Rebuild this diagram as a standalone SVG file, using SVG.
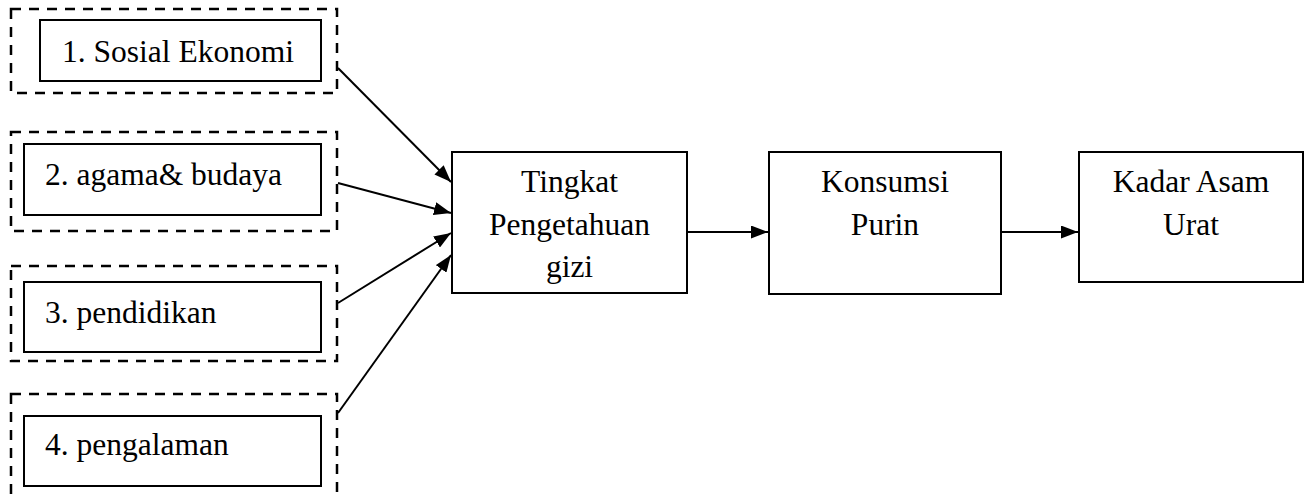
<svg xmlns="http://www.w3.org/2000/svg" width="1308" height="497" viewBox="0 0 1308 497">
<style>
.dash{fill:none;stroke:#000;stroke-width:2.5;stroke-dasharray:10 8}
.box{fill:#fff;stroke:#000;stroke-width:2}
text{font-family:'Liberation Serif','Times New Roman',Times,'DejaVu Serif',serif;font-size:31.5px;fill:#000}
.c{text-anchor:middle}
.ln{fill:none;stroke:#000;stroke-width:2;marker-end:url(#ah)}
</style>
<defs>
<marker id="ah" markerWidth="17" markerHeight="13" refX="17" refY="6.5" orient="auto" markerUnits="userSpaceOnUse">
<path d="M0,0 L17,6.5 L0,13 Z" fill="#000"/>
</marker>
</defs>
<rect width="1308" height="497" fill="#fff"/>
<g id="factor1">
<rect class="dash" x="11" y="9" width="326" height="84"/>
<rect class="box" x="40" y="20" width="281" height="61"/>
<text x="62" y="62">1. Sosial Ekonomi</text>
</g>
<g id="factor2">
<rect class="dash" x="11" y="132" width="326" height="99"/>
<rect class="box" x="24" y="144" width="297" height="71"/>
<text x="45" y="185">2. agama&amp; budaya</text>
</g>
<g id="factor3">
<rect class="dash" x="11" y="266" width="326" height="95"/>
<rect class="box" x="24" y="282" width="297" height="70"/>
<text x="45" y="323">3. pendidikan</text>
</g>
<g id="factor4">
<rect class="dash" x="11" y="394" width="326" height="120"/>
<rect class="box" x="24" y="416" width="297" height="70"/>
<text x="45" y="455">4. pengalaman</text>
</g>
<g id="tingkat">
<rect class="box" x="452" y="152" width="235" height="141"/>
<text class="c" x="569.5" y="192">Tingkat</text>
<text class="c" x="569.5" y="235">Pengetahuan</text>
<text class="c" x="569.5" y="277">gizi</text>
</g>
<g id="konsumsi">
<rect class="box" x="769" y="152" width="232" height="142"/>
<text class="c" x="885" y="192">Konsumsi</text>
<text class="c" x="885" y="235">Purin</text>
</g>
<g id="kadar">
<rect class="box" x="1079" y="152" width="224" height="130"/>
<text class="c" x="1191" y="192">Kadar Asam</text>
<text class="c" x="1191" y="235">Urat</text>
</g>
<g id="connectors">
<line class="ln" x1="338" y1="68" x2="451" y2="182"/>
<line class="ln" x1="338" y1="183" x2="451" y2="213"/>
<line class="ln" x1="338" y1="303" x2="451" y2="233"/>
<line class="ln" x1="338" y1="413" x2="451" y2="255"/>
<line class="ln" x1="687" y1="232" x2="768" y2="232"/>
<line class="ln" x1="1001" y1="232" x2="1078" y2="232"/>
</g>
</svg>
